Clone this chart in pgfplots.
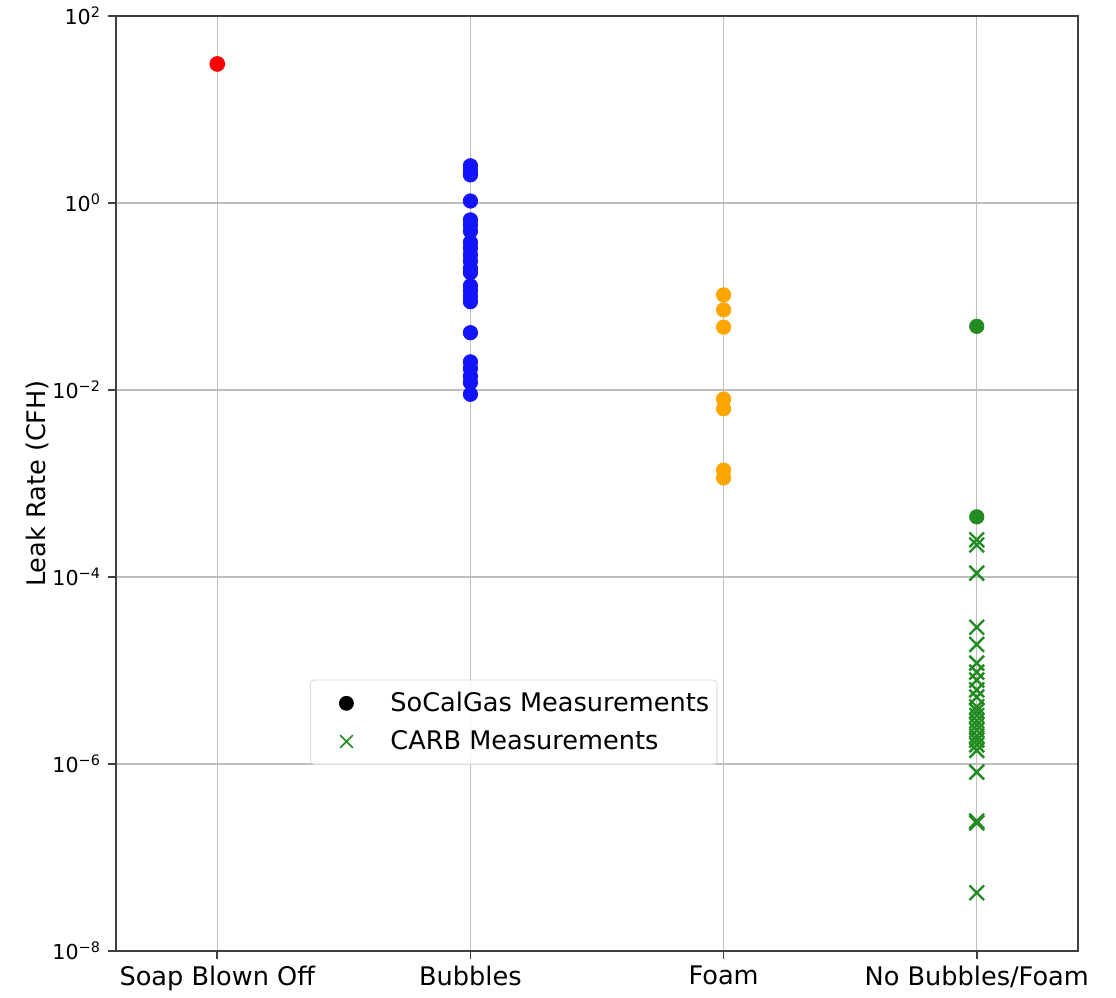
\documentclass[border=0pt]{standalone}
\usepackage{pgfplots}
\pgfplotsset{compat=1.18}
\usepackage{fontspec}
\setmainfont{DejaVu Sans}
\definecolor{mpred}{RGB}{255,0,0}
\definecolor{mpblue}{RGB}{20,20,250}
\definecolor{mporange}{RGB}{255,165,0}
\definecolor{mpgreen}{RGB}{34,139,34}
\definecolor{gridgray}{RGB}{190,190,190}
\begin{document}
\begin{tikzpicture}
\begin{axis}[name=ax, scale only axis, width=481pt, height=467.5pt,
  ymode=log, log basis y=10, ymin=1e-8, ymax=1e2,
  xmin=-0.4, xmax=3.4,
  xtick={0,1,2,3},
  xticklabels={Soap Blown Off, Bubbles, Foam, No Bubbles/Foam},
  ytick={1e-8,1e-6,1e-4,1e-2,1,1e2},
  yticklabels={10\textsuperscript{−8},10\textsuperscript{−6},10\textsuperscript{−4},10\textsuperscript{−2},10\textsuperscript{0},10\textsuperscript{2}},
  minor ytick={},
  grid=major, major grid style={gridgray, line width=0.7pt},
  axis line style={black!75, line width=0.8pt},
  tick style={black!75, line width=0.8pt}, major tick length=4pt, tick align=outside,
  xtick pos=bottom, ytick pos=left,
  axis on top,
  ylabel={Leak Rate (CFH)},
  ylabel style={at={(axis description cs:-0.0821,0.5)}, anchor=center},
  xticklabel style={font=\fontsize{12.8}{15}\selectfont},
  yticklabel style={font=\fontsize{10.3}{12}\selectfont},
  label style={font=\fontsize{12.8}{15}\selectfont},
  legend style={at={(0.2017,0.199)}, anchor=south west,
    font=\fontsize{12.8}{15}\selectfont, draw=black!15, rounded corners=2pt,
    fill=white, fill opacity=0.8, text opacity=1, draw opacity=1,
    inner xsep=2pt, inner ysep=4pt, row sep=4pt},
  legend cell align=left,
  legend image code/.code={\path[draw=none, fill=none] (0pt,-3pt) rectangle (36pt,3pt); \draw[#1, fill opacity=1, draw opacity=1] plot coordinates {(16pt,0pt)};},
  clip=false,
]
\addlegendimage{only marks, mark=*, black, mark size=3.5pt}
\addlegendentry{SoCalGas Measurements}
\addlegendimage{only marks, mark=x, mpgreen, mark size=4.5pt, line width=0.8pt}
\addlegendentry{CARB Measurements}

\addplot[forget plot, only marks, mark=*, mark size=3.7pt, color=mpred] coordinates {(0,30.7)};

\addplot[forget plot, only marks, mark=*, mark size=3.6pt, color=mpblue] coordinates {
(1,2.5) (1,2.2) (1,2.0) (1,1.05) (1,0.66) (1,0.58) (1,0.5)
(1,0.38) (1,0.33) (1,0.28) (1,0.24) (1,0.2) (1,0.18)
(1,0.13) (1,0.115) (1,0.1) (1,0.088) (1,0.041)
(1,0.02) (1,0.017) (1,0.014) (1,0.012) (1,0.009)
};

\addplot[forget plot, only marks, mark=*, mark size=3.6pt, color=mporange] coordinates {
(2,0.104) (2,0.072) (2,0.047) (2,0.008) (2,0.0063) (2,0.00139) (2,0.00115)
};

\addplot[forget plot, only marks, mark=*, mark size=3.6pt, color=mpgreen] coordinates {
(3,0.048) (3,0.00044)
};

\addplot[forget plot, only marks, mark=x, mark size=5.2pt, line width=1.2pt, color=mpgreen] coordinates {
(3,2.5e-4) (3,2.2e-4) (3,1.1e-4) (3,2.9e-5) (3,1.9e-5) (3,1.2e-5)
(3,9.6e-6) (3,7.9e-6) (3,6.2e-6) (3,5.2e-6)
(3,4.1e-6) (3,3.7e-6) (3,3.3e-6) (3,2.9e-6) (3,2.6e-6) (3,2.3e-6)
(3,2.0e-6) (3,1.8e-6) (3,1.6e-6) (3,1.4e-6) (3,8.2e-7)
(3,2.45e-7) (3,2.35e-7) (3,4.2e-8)
};
\end{axis}
\path ([shift={(-58pt,-19pt)}]ax.south west) rectangle ([shift={(19pt,8pt)}]ax.north east);
\end{tikzpicture}
\end{document}
